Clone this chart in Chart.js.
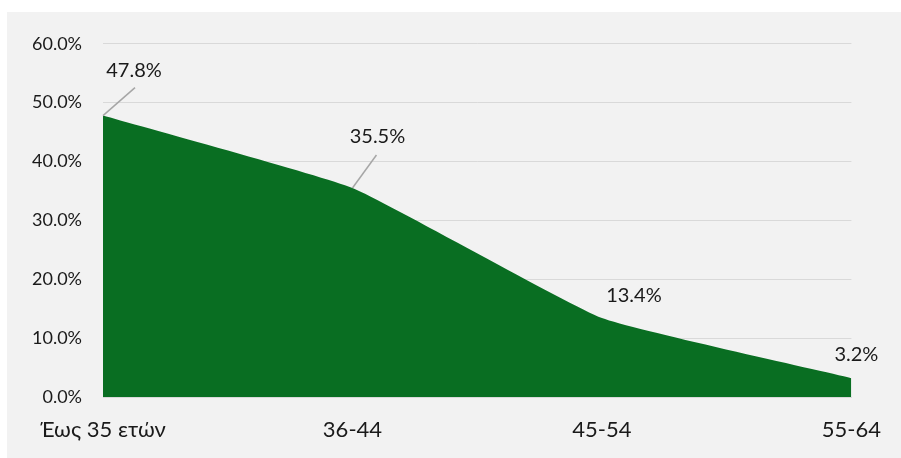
<!DOCTYPE html>
<html>
<head>
<meta charset="utf-8">
<script src="https://cdn.jsdelivr.net/npm/chart.js@4"></script>
<style>
html,body{margin:0;padding:0;background:#ffffff;overflow:hidden;}
#wrap{position:absolute;left:7px;top:12px;width:894px;height:446px;background:#f2f2f2;}
canvas{display:block;}
</style>
</head>
<body>
<div id="wrap"><canvas id="c" width="894" height="446"></canvas></div>
<script>
const categories = ['Έως 35 ετών', '36-44', '45-54', '55-64'];
const shares = [47.8, 35.5, 13.4, 3.2];
const yTicks = [0, 10, 20, 30, 40, 50, 60];

const FONT = "Lato, 'Noto Sans', sans-serif";

// label placement relative to each point
const labelPlacement = [
  {dx: 31, dy: -45, lx: 32, ly: -28},
  {dx: 25, dy: -51, lx: 24, ly: -33},
  {dx: 32, dy: -23, lx: null, ly: null},
  {dx: 5, dy: -24, lx: null, ly: null}
];

const labelPlugin = {
  id: 'areaLabels',
  afterDatasetsDraw(chart) {
    const ctx = chart.ctx;
    const meta = chart.getDatasetMeta(0);
    ctx.save();
    meta.data.forEach((pt, i) => {
      const p = labelPlacement[i];
      if (p.lx !== null) {
        ctx.strokeStyle = '#a6a6a6';
        ctx.lineWidth = 1.5;
        ctx.beginPath();
        ctx.moveTo(pt.x, pt.y);
        ctx.lineTo(pt.x + p.lx, pt.y + p.ly);
        ctx.stroke();
      }
      ctx.fillStyle = '#1a1a1a';
      ctx.font = '20px ' + FONT;
      ctx.textAlign = 'center';
      ctx.textBaseline = 'middle';
      ctx.fillText(shares[i].toFixed(1) + '%', pt.x + p.dx, pt.y + p.dy);
    });
    ctx.restore();
  }
};

new Chart(document.getElementById('c'), {
  type: 'line',
  data: {
    labels: categories,
    datasets: [{
      data: shares,
      fill: 'origin',
      backgroundColor: '#096e22',
      borderColor: '#096e22',
      borderWidth: 0,
      pointRadius: 0,
      tension: 0.12
    }]
  },
  options: {
    responsive: false,
    animation: false,
    layout: {padding: {left: 0, right: 48, top: 30, bottom: 0}},
    plugins: {legend: {display: false}, tooltip: {enabled: false}},
    scales: {
      x: {
        offset: false,
        grid: {display: false, drawTicks: false},
        border: {display: true, color: '#d9d9d9', width: 1},
        ticks: {color: '#1a1a1a', font: {family: FONT, size: 22}, padding: 20, maxRotation: 0, autoSkip: false},
        afterFit(s) { s.height = 61; }
      },
      y: {
        min: 0, max: 60,
        afterBuildTicks(s) { s.ticks = yTicks.map(v => ({value: v})); },
        grid: {color: '#d9d9d9', lineWidth: 1, drawTicks: false},
        border: {display: false},
        ticks: {color: '#1a1a1a', font: {family: FONT, size: 18}, padding: 21,
          callback: v => v.toFixed(1) + '%'},
        afterFit(s) { s.width = 96; }
      }
    }
  },
  plugins: [labelPlugin]
});
</script>
</body>
</html>
